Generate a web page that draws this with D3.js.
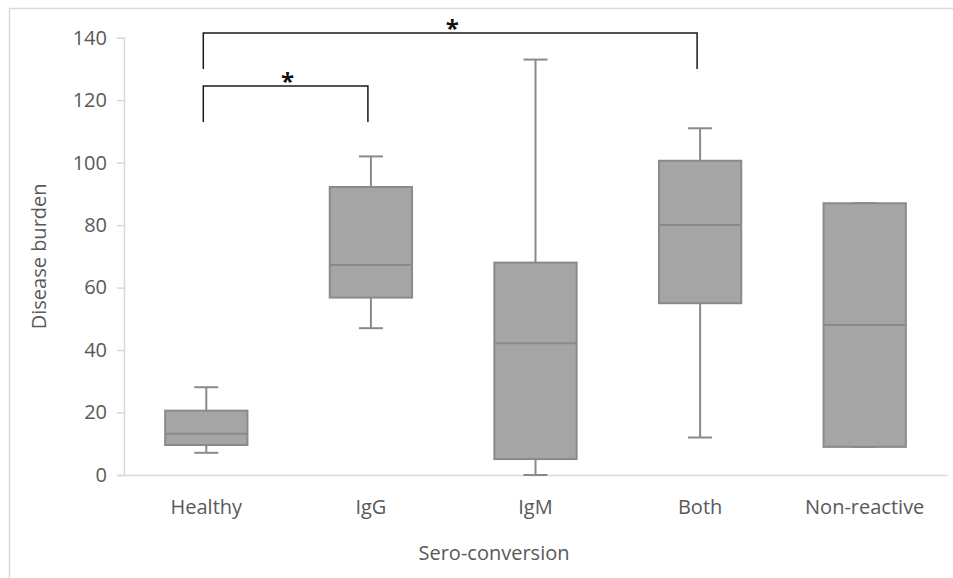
<!DOCTYPE html>
<html>
<head>
<meta charset="utf-8">
<script src="https://cdn.jsdelivr.net/npm/d3@7"></script>
<style>
  html, body { margin: 0; padding: 0; background: #fff; }
  svg { display: block; }
  text { font-family: "Open Sans", "Noto Sans", sans-serif; }
</style>
</head>
<body>
<svg id="chart" width="953" height="578"></svg>
<script>
// Sero-conversion groups and box-plot statistics (disease burden)
const categories = ["Healthy", "IgG", "IgM", "Both", "Non-reactive"];
const whiskerLow  = [7.1, 47, 0, 12, 9];
const quartile1   = [9.6, 56.8, 5.1, 55, 9];
const medians     = [13.2, 67.2, 42.2, 80, 48];
const quartile3   = [20.6, 92.2, 68, 100.6, 87];
const whiskerHigh = [28.1, 102, 133, 111, 87];

const yTicks = [0, 20, 40, 60, 80, 100, 120, 140];

// Significance brackets: from group, to group, bar level, leg end level
const bracketFrom  = ["Healthy", "Healthy"];
const bracketTo    = ["IgG", "Both"];
const bracketTop   = [124.5, 141.5];
const bracketLeg   = [113, 130];
const bracketLabel = ["*", "*"];

const svg = d3.select("#chart");
const W = 953, H = 578;
const margin = { left: 124, right: 6, top: 37.7, bottom: 103 };
const fontSize = 20;

// outer chart frame
svg.append("rect")
  .attr("x", 9.5).attr("y", 8.5)
  .attr("width", W + 20).attr("height", H + 20)
  .attr("fill", "none").attr("stroke", "#d9d9d9").attr("stroke-width", 1.5);

const x = d3.scaleBand()
  .domain(categories)
  .range([margin.left, W - margin.right])
  .paddingInner(0).paddingOuter(0);

const y = d3.scaleLinear()
  .domain([0, 140])
  .range([H - margin.bottom, margin.top]);

const axisColor = "#d9d9d9";
const textColor = "#595959";

// y axis
const yAxis = svg.append("g")
  .attr("transform", `translate(${margin.left},0)`)
  .call(d3.axisLeft(y).tickValues(yTicks).tickSize(7).tickPadding(10).tickFormat(d3.format("d")));
yAxis.select(".domain").attr("stroke", axisColor).attr("stroke-width", 1.5);
yAxis.selectAll(".tick line").attr("stroke", axisColor).attr("stroke-width", 1.5);
yAxis.selectAll(".tick text").attr("fill", textColor).attr("font-size", fontSize)
  .attr("font-family", "'Open Sans', sans-serif");

// x axis
const xAxis = svg.append("g")
  .attr("transform", `translate(0,${y(0)})`)
  .call(d3.axisBottom(x).tickSize(0).tickPadding(25));
xAxis.select(".domain").attr("stroke", axisColor).attr("stroke-width", 1.5);
xAxis.selectAll(".tick text").attr("fill", textColor).attr("font-size", fontSize)
  .attr("font-family", "'Open Sans', sans-serif");

// axis titles
svg.append("text")
  .attr("transform", `translate(46,${(y(0) + y(140)) / 2}) rotate(-90)`)
  .attr("text-anchor", "middle")
  .attr("fill", textColor).attr("font-size", fontSize)
  .text("Disease burden");

svg.append("text")
  .attr("x", 494).attr("y", 560)
  .attr("text-anchor", "middle")
  .attr("fill", textColor).attr("font-size", fontSize)
  .text("Sero-conversion");

// box plots
const boxColor = "#a5a5a5";
const lineColor = "#8a8a8a";
const boxW = x.bandwidth() * 0.5;
const capW = 24;

const stats = categories.map((c, i) => ({
  cat: c, lo: whiskerLow[i], q1: quartile1[i], med: medians[i], q3: quartile3[i], hi: whiskerHigh[i]
}));

const g = svg.append("g");
stats.forEach(d => {
  const cx = x(d.cat) + x.bandwidth() / 2;
  // whiskers
  g.append("line").attr("x1", cx).attr("x2", cx).attr("y1", y(d.q3)).attr("y2", y(d.hi))
    .attr("stroke", lineColor).attr("stroke-width", 2);
  g.append("line").attr("x1", cx).attr("x2", cx).attr("y1", y(d.q1)).attr("y2", y(d.lo))
    .attr("stroke", lineColor).attr("stroke-width", 2);
  // caps
  [d.hi, d.lo].forEach(v => {
    g.append("line").attr("x1", cx - capW / 2).attr("x2", cx + capW / 2)
      .attr("y1", y(v)).attr("y2", y(v))
      .attr("stroke", lineColor).attr("stroke-width", 2);
  });
  // box
  g.append("rect")
    .attr("x", cx - boxW / 2).attr("y", y(d.q3))
    .attr("width", boxW).attr("height", y(d.q1) - y(d.q3))
    .attr("fill", boxColor).attr("stroke", lineColor).attr("stroke-width", 2);
  // median
  g.append("line").attr("x1", cx - boxW / 2).attr("x2", cx + boxW / 2)
    .attr("y1", y(d.med)).attr("y2", y(d.med))
    .attr("stroke", lineColor).attr("stroke-width", 2);
});

// significance brackets
const bg = svg.append("g");
bracketFrom.forEach((from, i) => {
  const x1 = x(from) + x.bandwidth() / 2 - 3;
  const x2 = x(bracketTo[i]) + x.bandwidth() / 2 - 3;
  bg.append("path")
    .attr("d", d3.line()([[x1, y(bracketLeg[i])], [x1, y(bracketTop[i])], [x2, y(bracketTop[i])], [x2, y(bracketLeg[i])]]))
    .attr("fill", "none").attr("stroke", "#1a1a1a").attr("stroke-width", 1.5);
  bg.append("text")
    .attr("x", (x1 + x2) / 2 + 2).attr("y", y(bracketTop[i]) + 4)
    .attr("text-anchor", "middle")
    .attr("font-size", 24).attr("font-weight", "bold").attr("fill", "#111")
    .attr("font-family", "'DejaVu Sans', sans-serif")
    .text(bracketLabel[i]);
});
</script>
</body>
</html>
